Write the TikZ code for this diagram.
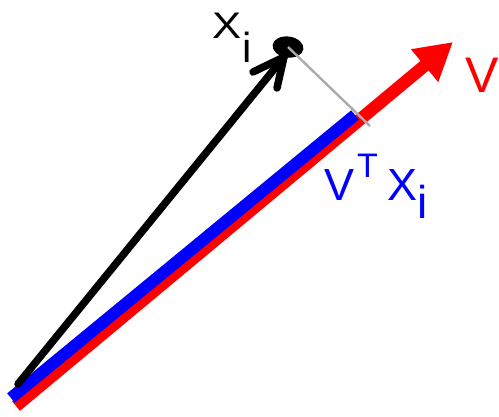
\documentclass[tikz,border=0pt]{standalone}
\usepackage{fontspec}
\setmainfont{Liberation Sans}
\usetikzlibrary{arrows.meta,shapes.geometric}
\begin{document}
\begin{tikzpicture}[x=1pt,y=-1pt,
  lbl/.style={inner sep=0pt, anchor=base west},
  redvec/.style={draw=red, line width=12.5pt, -{Triangle[length=37pt,width=40pt]}},
  bluevec/.style={draw=blue, line width=12pt},
  blackvec/.style={draw=black, line width=7.5pt, line cap=round},
  barb/.style={draw=black, line width=7.5pt, line cap=round},
  proj/.style={draw=black!33, line width=2.4pt},
  dotpt/.style={fill=black, draw=none, ellipse, minimum width=31pt, minimum height=21pt, inner sep=0pt}]
\useasboundingbox (0,0) rectangle (499,416);
% coordinates
\coordinate (rs) at (16,406);
\coordinate (rt) at (453,42);
\coordinate (bs) at (11,398);
\coordinate (be) at (355,115);
\coordinate (ks) at (18,384);
\coordinate (kt) at (284,57);
\coordinate (ka) at (253,72);
\coordinate (kb) at (277,88);
\coordinate (pf) at (370,126);
% red vector v
\draw[redvec] (rs) -- (rt);
% blue projection
\draw[bluevec] (bs) -- (be);
% black vector x_i
\draw[blackvec] (ks) -- (kt);
\draw[barb] (ka) -- (kt) -- (kb);
% point x_i
\node[dotpt, rotate=-8] (xi) at (288,47) {};
% projection line
\draw[proj] (xi.center) -- (pf);
% labels
\node[lbl] (lx) at (212,38) {\fontsize{37}{37}\selectfont\scalebox{1.18}[1]{X}};
\node[lbl] (li) at (242,62) {\fontsize{42}{42}\selectfont i};
\node[lbl, text=red] (lv) at (465,92) {\fontsize{50}{50}\selectfont V};
\node[lbl, text=blue] (pv) at (324,200) {\fontsize{45}{45}\selectfont V};
\node[lbl, text=blue] (ptt) at (357,177) {\fontsize{34}{34}\selectfont T};
\node[lbl, text=blue] (px) at (387,200) {\fontsize{45}{45}\selectfont X};
\node[lbl, text=blue] (pi) at (417,218) {\fontsize{46}{46}\selectfont i};
\end{tikzpicture}
\end{document}
